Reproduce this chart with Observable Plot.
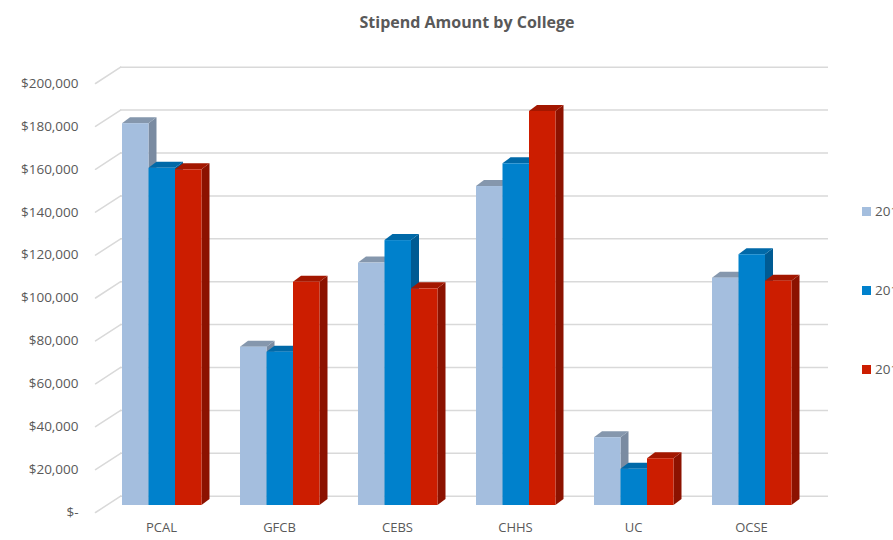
<!DOCTYPE html>
<html>
<head>
<meta charset="utf-8">
<script src="https://cdn.jsdelivr.net/npm/d3@7"></script>
<script src="https://cdn.jsdelivr.net/npm/@observablehq/plot@0.6"></script>
<style>
  html, body { margin: 0; padding: 0; background: #fff; overflow: hidden; width: 893px; height: 540px; }
  #wrap { position: relative; width: 893px; height: 540px; font-family: "Open Sans", sans-serif; color: #595959; }
  #title { position: absolute; left: 0; top: 11px; width: 934px; text-align: center; font-size: 16px; font-weight: 700; line-height: 22px; white-space: nowrap; }
  .lg { position: absolute; left: 862px; font-size: 13.5px; line-height: 16px; white-space: nowrap; }
  .lg span.sw { display: inline-block; width: 9px; height: 9px; margin-right: 4px; vertical-align: 0px; }
  #chart { position: absolute; left: 0; top: 0; }
</style>
</head>
<body>
<div id="wrap">
  <div id="chart"></div>
  <div id="title">Stipend Amount by College</div>
  <div id="legend"></div>
</div>
<script>
// ---- data ----
const colleges = ["PCAL", "GFCB", "CEBS", "CHHS", "UC", "OCSE"];
const seriesNames = ["2013", "2014", "2015"];
const values2013 = [178000, 73800, 113000, 148700, 31600, 106000];
const values2014 = [157200, 71500, 123500, 159300, 16900, 116900];
const values2015 = [156500, 104100, 101000, 183700, 21800, 104600];
const yTicks = [0, 20000, 40000, 60000, 80000, 100000, 120000, 140000, 160000, 180000, 200000];

const seriesValues = [values2013, values2014, values2015];
const frontColors = ["#a4bede", "#0081cc", "#cc1d00"];
const topColors = ["#8597ad", "#0069a8", "#a31700"];
const sideColors = ["#7a8ba1", "#005b93", "#8c1200"];

const rows = colleges.flatMap((c, ci) => seriesNames.map((s, si) => ({college: c, series: s, si, value: seriesValues[si][ci]})));

// ---- layout ----
const W = 893, H = 540, mL = 102, mR = 83, mT = 76, mB = 35;
const bandW = (W - mL - mR) / colleges.length;
const barW = 26.5, padL = 20;
const DX = 8, DY = -6;

const fmt = d => d === 0 ? "$-" : "$" + d3.format(",")(d);

function barMark(si) {
  const insetLeft = padL + barW * si;
  const insetRight = bandW - padL - barW * (si + 1);
  return Plot.barY(rows.filter(r => r.si === si), {
    x: "college", y1: 0, y2: "value",
    fill: frontColors[si], insetLeft, insetRight,
    render(index, scales, values) {
      const g = d3.create("svg:g");
      for (const i of index) {
        const x0 = values.x[i] + insetLeft;
        const x1 = x0 + barW;
        const yb = values.y1[i], yt = values.y2[i];
        g.append("polygon")
          .attr("points", [[x1, yt], [x1 + DX, yt + DY], [x1 + DX, yb + DY], [x1, yb]].join(" "))
          .attr("fill", sideColors[si]);
        g.append("polygon")
          .attr("points", [[x0, yt], [x1, yt], [x1 + DX, yt + DY], [x0 + DX, yt + DY]].join(" "))
          .attr("fill", topColors[si]);
        g.append("rect")
          .attr("x", x0).attr("y", yt).attr("width", barW).attr("height", yb - yt)
          .attr("fill", frontColors[si]);
      }
      return g.node();
    }
  });
}

const plot = Plot.plot({
  width: W, height: H,
  marginLeft: mL, marginRight: mR, marginTop: mT, marginBottom: mB,
  style: {fontFamily: "'Open Sans', sans-serif", color: "#595959", background: "transparent"},
  x: {domain: colleges, padding: 0, axis: null},
  y: {domain: [0, 200000], axis: null},
  marks: [
    Plot.ruleY(yTicks, {y: d => d, stroke: "#d9d9d9", strokeWidth: 1.5, dx: 18, dy: -9.3}),
    Plot.vector(yTicks, {y: d => d, frameAnchor: "left", length: 30, rotate: 57, anchor: "start",
      shape: "spike", r: 0, fill: "none", stroke: "#d9d9d9", strokeWidth: 1.5, dx: -7, dy: 7}),
    barMark(0), barMark(1), barMark(2),
    Plot.text(yTicks, {y: d => d, frameAnchor: "left", text: fmt, textAnchor: "end",
      dx: -24, dy: 7, fill: "#595959", fontSize: 13.5}),
    Plot.text(colleges, {x: d => d, frameAnchor: "bottom", text: d => d, dy: 26,
      fill: "#595959", fontSize: 13})
  ]
});
document.getElementById("chart").appendChild(plot);

// ---- legend ----
const legendTops = [203, 282, 361];
const legend = document.getElementById("legend");
seriesNames.forEach((s, i) => {
  const d = document.createElement("div");
  d.className = "lg";
  d.style.top = legendTops[i] + "px";
  d.innerHTML = `<span class="sw" style="background:${frontColors[i]}"></span>${s}`;
  legend.appendChild(d);
});
</script>
</body>
</html>
